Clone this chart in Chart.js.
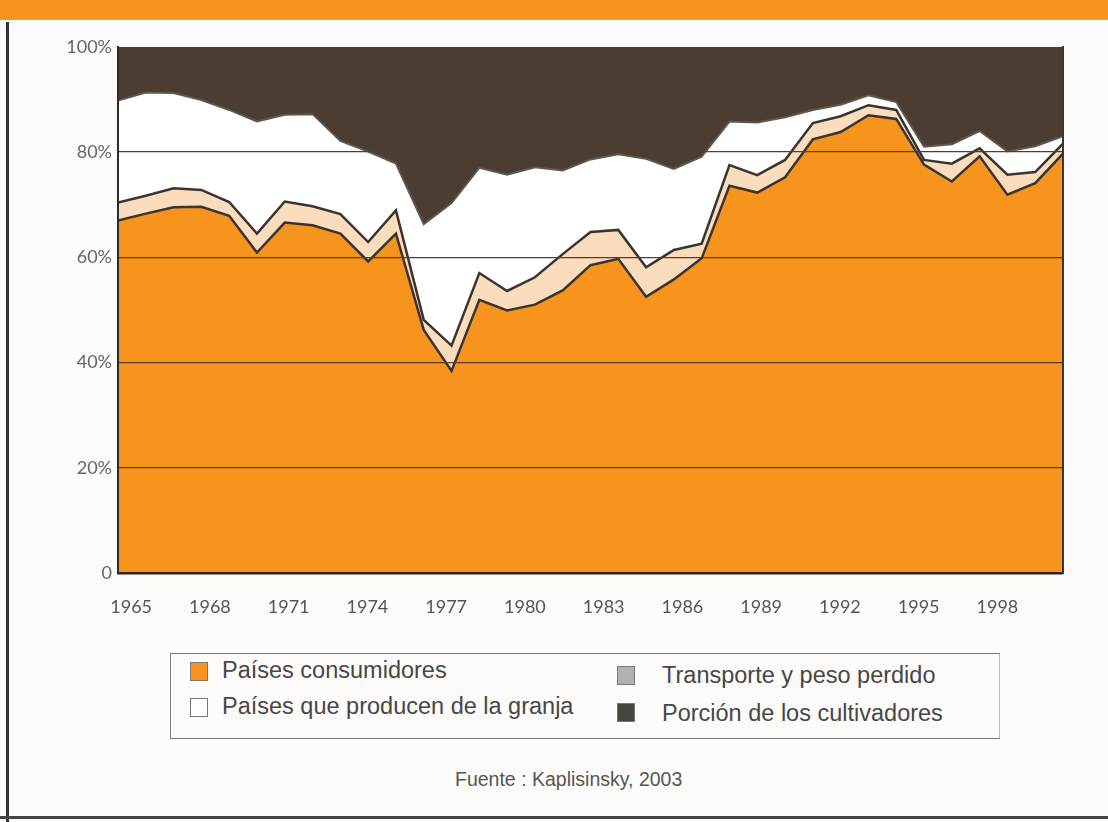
<!DOCTYPE html>
<html lang="es">

<head>
    <meta charset="UTF-8">
    <title>Reparto del precio final</title>
    <style>
        body { margin: 0; width: 1108px; height: 822px; background: #fcfbf9; position: relative; overflow: hidden; font-family: "Liberation Sans", Arial, sans-serif; }
        .banner { position: absolute; left: 0; top: 0; width: 1108px; height: 20px; background: #f7941d; }
        .edge-left { position: absolute; left: 6px; top: 22px; width: 3px; height: 800px; background: #333; }
        .edge-bottom { position: absolute; left: 0; top: 816px; width: 1108px; height: 3px; background: #444; }
        #wrap { position: absolute; left: 40px; top: 30px; }
        .legend { position: absolute; left: 170px; top: 653px; width: 828px; height: 84px; border: 1.5px solid #7a7a7a; border-right-color: #bbb; }
        .item { position: absolute; font-size: 23.5px; color: #474747; white-space: nowrap; }
        .sw { position: absolute; width: 16px; height: 17px; border: 1px solid #777; }
        .src { position: absolute; left: 455px; top: 768px; font-size: 19.5px; color: #555; }
    </style>
</head>

<body>
    <div class="banner"></div>
    <div class="edge-left"></div>
    <div class="edge-bottom"></div>

    <div id="wrap">
        <canvas id="myChart" width="1040" height="600"></canvas>
    </div>

    <div class="sw" style="left:190px; top:662px; background:#f7941d;"></div>
    <div class="item" style="left:222px; top:657px;">Países consumidores</div>
    <div class="sw" style="left:190px; top:698px; background:#ffffff;"></div>
    <div class="item" style="left:222px; top:693px;">Países que producen de la granja</div>
    <div class="sw" style="left:617px; top:666px; background:#b4b2b0;"></div>
    <div class="item" style="left:662px; top:662px;">Transporte y peso perdido</div>
    <div class="sw" style="left:617px; top:703px; background:#474440;"></div>
    <div class="item" style="left:662px; top:700px;">Porción de los cultivadores</div>
    <div class="legend"></div>

    <div class="src">Fuente : Kaplisinsky, 2003</div>

    <script src="https://cdnjs.cloudflare.com/ajax/libs/Chart.js/4.4.1/chart.umd.min.js"></script>
    <script>
        // shares of the final price, %
        const years = [1965, 1966, 1967, 1968, 1969, 1970, 1971, 1972, 1973, 1974, 1975, 1976,
            1977, 1978, 1979, 1980, 1981, 1982, 1983, 1984, 1985, 1986, 1987, 1988,
            1989, 1990, 1991, 1992, 1993, 1994, 1995, 1996, 1997, 1998, 1999];
        const consumidores = [67.0, 68.3, 69.5, 69.6, 67.9, 60.9, 66.6, 66.1, 64.5, 59.2, 64.5, 46.2,
            38.4, 51.9, 49.9, 51.0, 53.7, 58.5, 59.7, 52.5, 55.8, 59.8, 73.6, 72.3,
            75.2, 82.4, 83.8, 87.0, 86.3, 77.6, 74.4, 79.2, 71.9, 74.1, 79.7];
        const transporte = [3.4, 3.4, 3.6, 3.2, 2.6, 3.6, 4.0, 3.6, 3.7, 3.7, 4.4, 1.9,
            4.8, 5.1, 3.7, 5.2, 6.9, 6.3, 5.5, 5.6, 5.6, 2.8, 3.9, 3.3,
            3.3, 3.1, 3.0, 1.9, 1.7, 0.9, 3.4, 1.5, 3.8, 2.1, 1.9];
        const productores = [19.4, 19.6, 18.1, 17.1, 17.5, 21.3, 16.5, 17.5, 13.9, 17.2, 8.9, 18.2,
            27.1, 20.0, 22.1, 20.9, 15.9, 13.8, 14.4, 20.6, 15.4, 16.5, 8.3, 10.0,
            8.1, 2.5, 2.2, 1.9, 1.5, 2.5, 3.7, 3.3, 4.4, 4.9, 1.4];
        const cultivadores = [10.2, 8.7, 8.8, 10.1, 12.0, 14.2, 12.9, 12.8, 17.9, 19.9, 22.2, 33.7,
            29.7, 23.0, 24.3, 22.9, 23.5, 21.4, 20.4, 21.3, 23.2, 20.9, 14.2, 14.4,
            13.4, 12.0, 11.0, 9.2, 10.5, 19.0, 18.5, 16.0, 19.9, 18.9, 17.0];
        // the printed axis labels sit in 36 yearly bands, a bit apart from the data
        const labelYears = ['1965', '1966', '1967', '1968', '1969', '1970', '1971', '1972', '1973',
            '1974', '1975', '1976', '1977', '1978', '1979', '1980', '1981', '1982', '1983', '1984',
            '1985', '1986', '1987', '1988', '1989', '1990', '1991', '1992', '1993', '1994', '1995',
            '1996', '1997', '1998', '1999', '2000'];

        const pts = arr => arr.map((v, i) => ({ x: years[i], y: v }));
        const lineCol = '#3b342e';

        var ctx = document.getElementById('myChart');
        var config = {
            type: 'line',
            data: {
                datasets: [
                    { label: 'Países consumidores', data: pts(consumidores), backgroundColor: '#f7941d', borderColor: lineCol, borderWidth: 2.5, fill: 'origin' },
                    { label: 'Transporte y peso perdido', data: pts(transporte), backgroundColor: '#fbdcbc', borderColor: lineCol, borderWidth: 2.5, fill: '-1' },
                    { label: 'Países que producen de la granja', data: pts(productores), backgroundColor: '#ffffff', borderColor: '#5e5750', borderWidth: 2, fill: '-1' },
                    { label: 'Porción de los cultivadores', data: pts(cultivadores), backgroundColor: '#4b3d31', borderColor: '#4b3d31', borderWidth: 0, fill: '-1' }
                ]
            },
            options: {
                responsive: false,
                animation: false,
                devicePixelRatio: 1,
                layout: { padding: { top: 14, right: 17, left: 0, bottom: 0 } },
                elements: { point: { radius: 0 }, line: { tension: 0 } },
                plugins: { legend: { display: false }, tooltip: { enabled: false } },
                scales: {
                    x: { type: 'linear', min: 1965, max: 1999, display: false },
                    xl: {
                        type: 'category', position: 'bottom', labels: labelYears, offset: true,
                        grid: { display: false, drawTicks: false },
                        border: { display: false },
                        ticks: {
                            autoSkip: false, maxRotation: 0, padding: 23, color: '#555',
                            font: { family: 'Lato', size: 18 },
                            callback: function (val, i) { return (i % 3 === 0 && i <= 33) ? this.getLabelForValue(val) : ''; }
                        },
                        afterFit: s => { s.height = 57; }
                    },
                    y: {
                        stacked: true, min: 0, max: 100,
                        grid: {
                            z: 1,
                            drawTicks: false,
                            color: c => c.tick.value === 0 ? '#2e241b' : '#5a3c22',
                            lineWidth: c => c.tick.value === 0 ? 2.5 : (c.tick.value === 100 ? 0 : 1.3)
                        },
                        border: { display: true, color: '#2e2a26', width: 2, z: 1 },
                        ticks: {
                            stepSize: 20, padding: 6, color: '#666',
                            font: { family: 'Lato', size: 18 },
                            callback: v => v === 0 ? '0' : v + '%'
                        },
                        afterFit: s => { s.width = 78; }
                    },
                    y2: {
                        position: 'right', min: 0, max: 100,
                        grid: { display: false },
                        border: { display: true, color: '#3a3632', width: 2, z: 1 },
                        ticks: { display: false },
                        afterFit: s => { s.width = 0; }
                    }
                }
            }
        };
        var chart = new Chart(ctx, config);
    </script>

</body>

</html>
